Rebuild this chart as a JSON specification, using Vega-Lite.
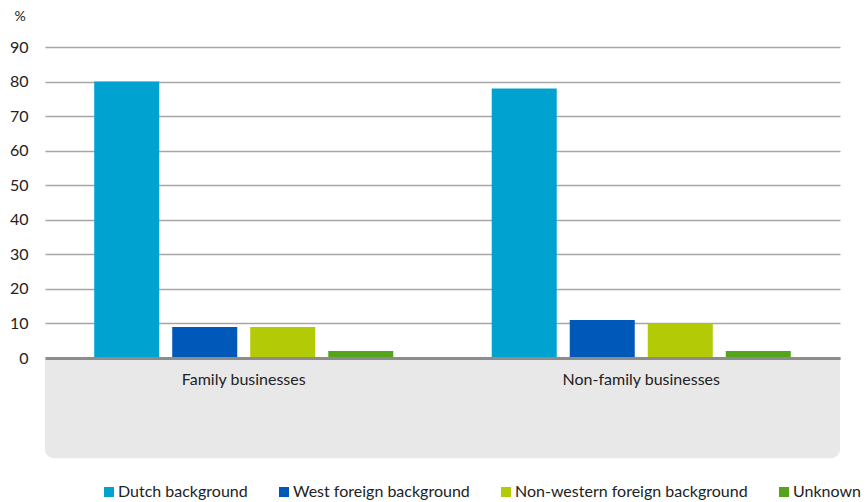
{
  "$schema": "https://vega.github.io/schema/vega-lite/v6.json",
  "width": 795,
  "height": 311,
  "autosize": {"type": "none"},
  "padding": {"left": 45, "top": 47, "right": 26, "bottom": 144},
  "background": "white",
  "config": {
    "view": {"stroke": null},
    "font": "Lato",
    "axis": {"labelFont": "Lato", "labelFontSize": 16, "labelColor": "#222222", "titleFont": "Lato", "titleColor": "#222222"},
    "legend": {"labelFont": "Lato", "labelFontSize": 16, "labelColor": "#222222"}
  },
  "data": {
    "values": [
      {"category": "Family businesses", "group": "Dutch background", "value": 80},
      {"category": "Family businesses", "group": "West foreign background", "value": 9},
      {"category": "Family businesses", "group": "Non-western foreign background", "value": 9},
      {"category": "Family businesses", "group": "Unknown", "value": 2},
      {"category": "Non-family businesses", "group": "Dutch background", "value": 78},
      {"category": "Non-family businesses", "group": "West foreign background", "value": 11},
      {"category": "Non-family businesses", "group": "Non-western foreign background", "value": 10},
      {"category": "Non-family businesses", "group": "Unknown", "value": 2}
    ]
  },
  "layer": [
    {
      "data": {"values": [{"band": "axis panel"}]},
      "mark": {"type": "rect", "color": "#E8E8E8", "cornerRadiusBottomLeft": 9, "cornerRadiusBottomRight": 9},
      "encoding": {
        "y": {
          "datum": 0, "type": "quantitative", "scale": {"domain": [0, 90], "nice": false},
          "axis": {
            "values": [0, 10, 20, 30, 40, 50, 60, 70, 80, 90],
            "labelOverlap": false,
            "title": "%", "titleAngle": 0, "titleAlign": "left", "titleBaseline": "alphabetic", "titleX": -31, "titleY": -27, "titleFontSize": 14, "titleFontWeight": "normal",
            "domain": false, "ticks": false, "tickSize": 0, "labelPadding": 17,
            "grid": true, "gridColor": "#A6A6A6", "gridWidth": 1.5
          }
        },
        "y2": {"datum": -29}
      }
    },
    {
      "mark": {"type": "bar"},
      "encoding": {
        "x": {
          "field": "category", "type": "nominal",
          "sort": ["Family businesses", "Non-family businesses"],
          "scale": {"paddingInner": 0, "paddingOuter": 0},
          "axis": {"title": null, "labelAngle": 0, "ticks": false, "tickSize": 0, "labelPadding": 13, "domain": true, "domainColor": "#8C8C8C", "domainWidth": 3, "zindex": 2}
        },
        "xOffset": {
          "field": "group", "type": "nominal",
          "sort": ["Dutch background", "West foreign background", "Non-western foreign background", "Unknown"],
          "scale": {"paddingInner": 0.1667, "paddingOuter": 0.631}
        },
        "y": {
          "field": "value", "type": "quantitative",
          "scale": {"domain": [0, 90], "nice": false},
          "axis": {
            "values": [0, 10, 20, 30, 40, 50, 60, 70, 80, 90],
            "labelOverlap": false,
            "title": "%", "titleAngle": 0, "titleAlign": "left", "titleBaseline": "alphabetic", "titleX": -31, "titleY": -27, "titleFontSize": 14, "titleFontWeight": "normal",
            "domain": false, "ticks": false, "tickSize": 0, "labelPadding": 17,
            "grid": true, "gridColor": "#A6A6A6", "gridWidth": 1.5
          }
        },
        "color": {
          "field": "group", "type": "nominal",
          "sort": ["Dutch background", "West foreign background", "Non-western foreign background", "Unknown"],
          "scale": {"range": ["#00A3CF", "#0059B9", "#B2CB06", "#55A51C"]},
          "legend": {
            "title": null, "orient": "none", "direction": "horizontal", "legendX": 56, "legendY": 437,
            "symbolType": "square", "symbolSize": 100, "symbolStrokeWidth": 0, "symbolOpacity": 1,
            "labelOffset": 1, "columnPadding": 28, "labelLimit": 400
          }
        }
      }
    }
  ]
}
